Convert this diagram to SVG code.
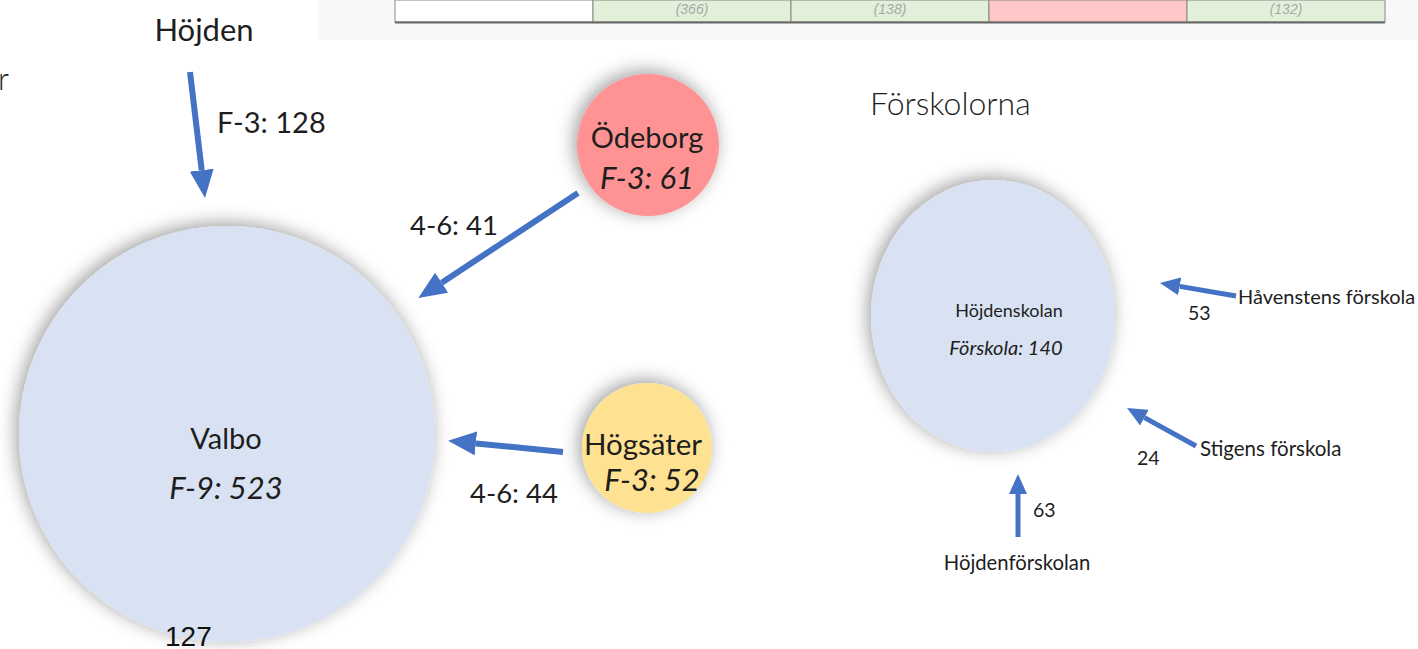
<svg xmlns="http://www.w3.org/2000/svg" width="1418" height="649" viewBox="0 0 1418 649">
<style>
.t{font-family:Lato,"Noto Sans",sans-serif;fill:#1e1e1e}
.i{font-style:italic}
.arr{stroke:#4472c4;fill:none}
.tb{font-family:"Liberation Sans",sans-serif;font-style:italic;font-size:14px;fill:#a8a8a8}
</style>
<defs>
<filter id="sh" x="-30%" y="-30%" width="160%" height="160%">
<feDropShadow dx="-3" dy="-3" stdDeviation="9" flood-color="#000" flood-opacity="0.38"/>
</filter>
<marker id="hb" markerUnits="userSpaceOnUse" markerWidth="28" markerHeight="24" refX="0" refY="12" orient="auto">
<path d="M0,0 L28,12 L0,24 z" fill="#4472c4"/>
</marker>
<marker id="hs" markerUnits="userSpaceOnUse" markerWidth="20" markerHeight="18" refX="0" refY="9" orient="auto">
<path d="M0,0 L20,9 L0,18 z" fill="#4472c4"/>
</marker>
</defs>
<rect width="1418" height="649" fill="#fff"/>
<rect x="318" y="0" width="1100" height="40" fill="#f8f8f8"/>
<g id="table">
<rect x="395" y="0" width="198" height="22" fill="#fff" stroke="#888"/>
<rect x="593" y="0" width="198" height="22" fill="#e2efd9" stroke="#888"/>
<rect x="791" y="0" width="198" height="22" fill="#e2efd9" stroke="#888"/>
<rect x="989" y="0" width="198" height="22" fill="#ffc7c7" stroke="#888"/>
<rect x="1187" y="0" width="198" height="22" fill="#e2efd9" stroke="#888"/>
<line x1="395" y1="22.5" x2="1385" y2="22.5" stroke="#666" stroke-width="2"/>
<text class="tb" x="692" y="14" text-anchor="middle">(366)</text>
<text class="tb" x="890" y="14" text-anchor="middle">(138)</text>
<text class="tb" x="1286" y="14" text-anchor="middle">(132)</text>
</g>
<text class="t" x="-2" y="90" font-size="31" font-weight="300" fill="#000">r</text>
<text class="t" x="870" y="115" font-size="32" font-weight="300" fill="#000">Förskolorna</text>
<g id="hojden">
<text class="t" x="204" y="41" font-size="31" text-anchor="middle">Höjden</text>
</g>
<g id="valbo">
<circle cx="227" cy="434" r="208" fill="#d9e2f3" filter="url(#sh)"/>
<text class="t" x="226" y="449" font-size="29" text-anchor="middle">Valbo</text>
<text class="t i" x="226" y="499" font-size="31" text-anchor="middle">F-9: 523</text>
</g>
<g id="odeborg">
<circle cx="648" cy="145" r="71" fill="#ff9393" filter="url(#sh)"/>
<text class="t" x="647" y="148" font-size="29" text-anchor="middle">Ödeborg</text>
<text class="t i" x="647" y="189" font-size="31" text-anchor="middle">F-3: 61</text>
</g>
<g id="hogsater">
<circle cx="647" cy="448" r="65" fill="#ffe291" filter="url(#sh)"/>
<text class="t" x="643" y="455" font-size="29.5" text-anchor="middle">Högsäter</text>
<text class="t i" x="652" y="491" font-size="31" text-anchor="middle">F-3: 52</text>
</g>
<g id="hojdenskolan">
<ellipse cx="993" cy="316" rx="122" ry="136" fill="#d9e2f3" filter="url(#sh)"/>
<text class="t" x="1009" y="317" font-size="18" text-anchor="middle">Höjdenskolan</text>
<text class="t i" x="1006" y="355" font-size="20" text-anchor="middle">Förskola: 140</text>
</g>
<g id="havenstens"><text class="t" x="1238" y="304" font-size="20">Håvenstens förskola</text></g>
<g id="stigens"><text class="t" x="1200" y="456" font-size="20.5">Stigens förskola</text></g>
<g id="hojdenforskolan"><text class="t" x="1017" y="570" font-size="20.3" text-anchor="middle">Höjdenförskolan</text></g>
<g id="connectors">
<line class="arr" x1="190" y1="72" x2="201.7" y2="170.2" stroke-width="6" marker-end="url(#hb)"/>
<line class="arr" x1="578" y1="193" x2="441.7" y2="282.7" stroke-width="6" marker-end="url(#hb)"/>
<line class="arr" x1="563" y1="452" x2="475.9" y2="443.4" stroke-width="6" marker-end="url(#hb)"/>
<line class="arr" x1="1236" y1="296" x2="1179.7" y2="286.4" stroke-width="5" marker-end="url(#hs)"/>
<line class="arr" x1="1196" y1="446" x2="1144.5" y2="417.6" stroke-width="5" marker-end="url(#hs)"/>
<line class="arr" x1="1018" y1="537" x2="1018" y2="494" stroke-width="5" marker-end="url(#hs)"/>
<text class="t" x="217" y="133" font-size="29">F-3: 128</text>
<text class="t" x="410" y="235" font-size="27.5">4-6: 41</text>
<text class="t" x="470" y="503" font-size="27.5">4-6: 44</text>
<text class="t" x="1188" y="320" font-size="19.5">53</text>
<text class="t" x="1137" y="465" font-size="19.5">24</text>
<text class="t" x="1033" y="517" font-size="19.5">63</text>
</g>
<text x="165" y="646" font-family="Liberation Sans,sans-serif" font-size="28" fill="#111">127</text>
</svg>
